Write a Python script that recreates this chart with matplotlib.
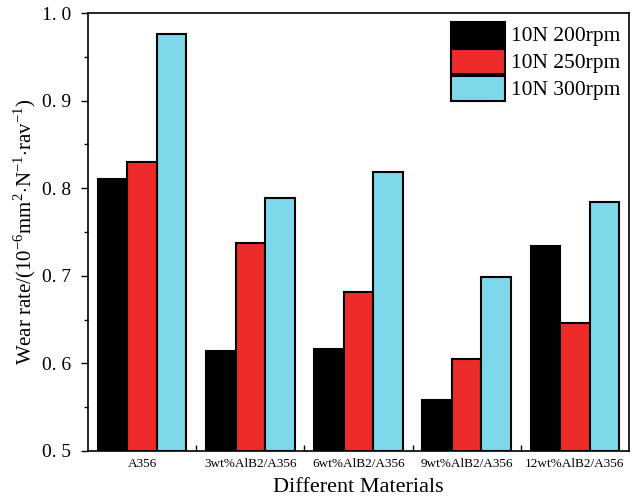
import numpy as np
import matplotlib
matplotlib.use("Agg")
import matplotlib.pyplot as plt
from matplotlib.ticker import MultipleLocator, FixedLocator

plt.rcParams['font.family'] = ['Liberation Serif', 'DejaVu Serif']
plt.rcParams['mathtext.fontset'] = 'custom'
plt.rcParams['mathtext.rm'] = 'Liberation Serif'

materials = ['A356', '3wt%AlB2/A356', '6wt%AlB2/A356', '9wt%AlB2/A356', '12wt%AlB2/A356']
labels = ['10N 200rpm', '10N 250rpm', '10N 300rpm']
rate_200 = [0.810, 0.614, 0.617, 0.558, 0.734]
rate_250 = [0.830, 0.737, 0.681, 0.605, 0.646]
rate_300 = [0.976, 0.789, 0.818, 0.699, 0.784]

colors = ['#000000', '#ee2b2b', '#7dd8ea']
series = [rate_200, rate_250, rate_300]

fig = plt.figure(figsize=(6.35, 5.03), dpi=100)
ax = fig.add_axes([0.1386, 0.1034, 0.8520, 0.8706])

x = np.arange(len(materials))
w = 0.273
for j in range(3):
    ax.bar(x + (j - 1) * w, np.array(series[j]) - 0.5, w, bottom=0.5,
           color=colors[j], edgecolor='black', linewidth=1.5, label=labels[j])

ax.set_xlim(-0.5, 4.5)
ax.set_ylim(0.5, 1.0)

# tick marks between groups, labels at group centres
ax.xaxis.set_major_locator(FixedLocator([0.5, 1.5, 2.5, 3.5]))
ax.xaxis.set_major_formatter(plt.NullFormatter())
ax.xaxis.set_minor_locator(FixedLocator(x))
ax.set_xticklabels(materials, minor=True, fontsize=9.5)
ax.tick_params(axis='x', which='major', direction='in', length=4, width=1)
ax.tick_params(axis='x', which='minor', length=0, pad=5)

ax.yaxis.set_major_locator(MultipleLocator(0.1))
ax.yaxis.set_minor_locator(MultipleLocator(0.05))
ax.yaxis.set_major_formatter(plt.FuncFormatter(lambda v, p: f"{v:.1f}".replace('.', '. ')))
ax.tick_params(axis='y', which='major', direction='out', length=5, width=1, labelsize=14, pad=7)
ax.tick_params(axis='y', which='minor', direction='out', length=3, width=1)

for s in ax.spines.values():
    s.set_linewidth(1.2)

ax.set_ylabel(r'Wear rate/(10$^{-6}$mm$^{2}$$\cdot$N$^{-1}$$\cdot$rav$^{-1}$)', fontsize=15, labelpad=3)
ax.set_xlabel('Different Materials', fontsize=16, labelpad=6)

ax.legend(loc='upper right', frameon=False, fontsize=15.5, handlelength=2.5, handleheight=1.4,
          handletextpad=0.3, labelspacing=0.1, borderaxespad=0.2, borderpad=0.2)

fig.savefig('out.png', dpi=100)
